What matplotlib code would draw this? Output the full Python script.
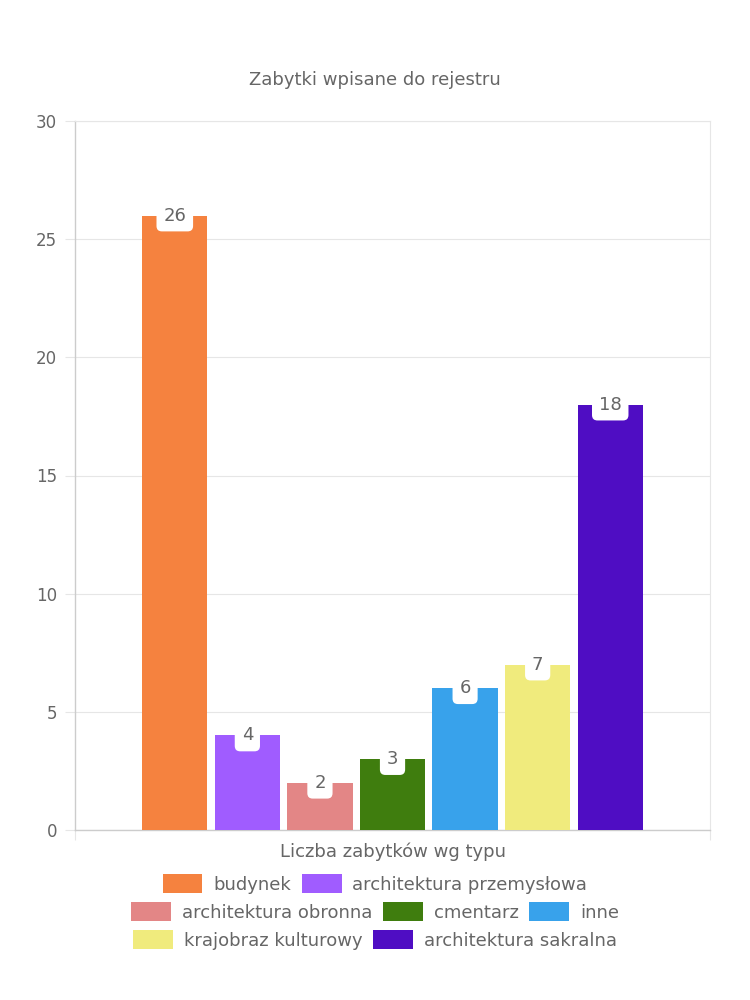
import matplotlib
matplotlib.use("Agg")
import matplotlib.pyplot as plt
from matplotlib.patches import Patch

plt.rcParams['font.family'] = ['DejaVu Sans']

title = "Zabytki wpisane do rejestru"
category_label = "Liczba zabytków wg typu"
series_names = ["budynek", "architektura przemysłowa", "architektura obronna",
                "cmentarz", "inne", "krajobraz kulturowy", "architektura sakralna"]
values = [26, 4, 2, 3, 6, 7, 18]
colors = ["#F5823F", "#A05CFF", "#E38686", "#3F7D0E", "#38A2EB", "#F0EB7D", "#4F0DC3"]
y_ticks = [0, 5, 10, 15, 20, 25, 30]

text_color = "#666666"
grid_color = "#e6e6e6"

fig = plt.figure(figsize=(7.5, 10), dpi=100)
ax = fig.add_axes([0.1, 0.17, 0.8467, 0.709])

n = len(values)
pad = (n / 0.8 - n) / 2
positions = list(range(n))
bars = ax.bar(positions, values, width=0.9, color=colors, zorder=3)

ax.set_xlim(-0.5 - pad, n - 0.5 + pad)
ax.set_ylim(0, 30)
ax.set_yticks(y_ticks)
ax.set_yticklabels([str(t) for t in y_ticks], fontsize=12, color=text_color)
ax.set_xticks([-0.5 - pad, n - 0.5 + pad])
ax.set_xticklabels(["", ""])
ax.tick_params(axis='x', length=7, color=grid_color)
ax.tick_params(axis='y', length=7, color=grid_color, pad=6)
ax.grid(axis='y', color=grid_color, linewidth=0.8, zorder=0)
for s in ['top', 'right']:
    ax.spines[s].set_color(grid_color)
    ax.spines[s].set_linewidth(0.8)
for s in ['left', 'bottom']:
    ax.spines[s].set_color("#cccccc")
    ax.spines[s].set_linewidth(1.0)

ax.text(0.5, -0.018, category_label, transform=ax.transAxes, ha='center', va='top',
        fontsize=13, color=text_color)

for x, v in zip(positions, values):
    ax.text(x, v, str(v), ha='center', va='center', fontsize=13, color=text_color,
            zorder=5,
            bbox=dict(boxstyle="round,pad=0.38,rounding_size=0.3", fc="white", ec="none"))

fig.text(0.5, 0.92, title, ha='center', va='center', fontsize=13, color=text_color)

rows = [[0, 1], [2, 3, 4], [5, 6]]
row_y = [0.116, 0.088, 0.060]
for r, yy in zip(rows, row_y):
    handles = [Patch(facecolor=colors[i], edgecolor='none') for i in r]
    labels = [series_names[i] for i in r]
    leg = fig.legend(handles, labels, loc='center', bbox_to_anchor=(0.5, yy), ncol=len(r),
                     frameon=False, fontsize=13, handlelength=2.2, handleheight=1.2,
                     handletextpad=0.6, columnspacing=0.6, borderpad=0)
    for t in leg.get_texts():
        t.set_color(text_color)

fig.savefig("out.png", dpi=100)
